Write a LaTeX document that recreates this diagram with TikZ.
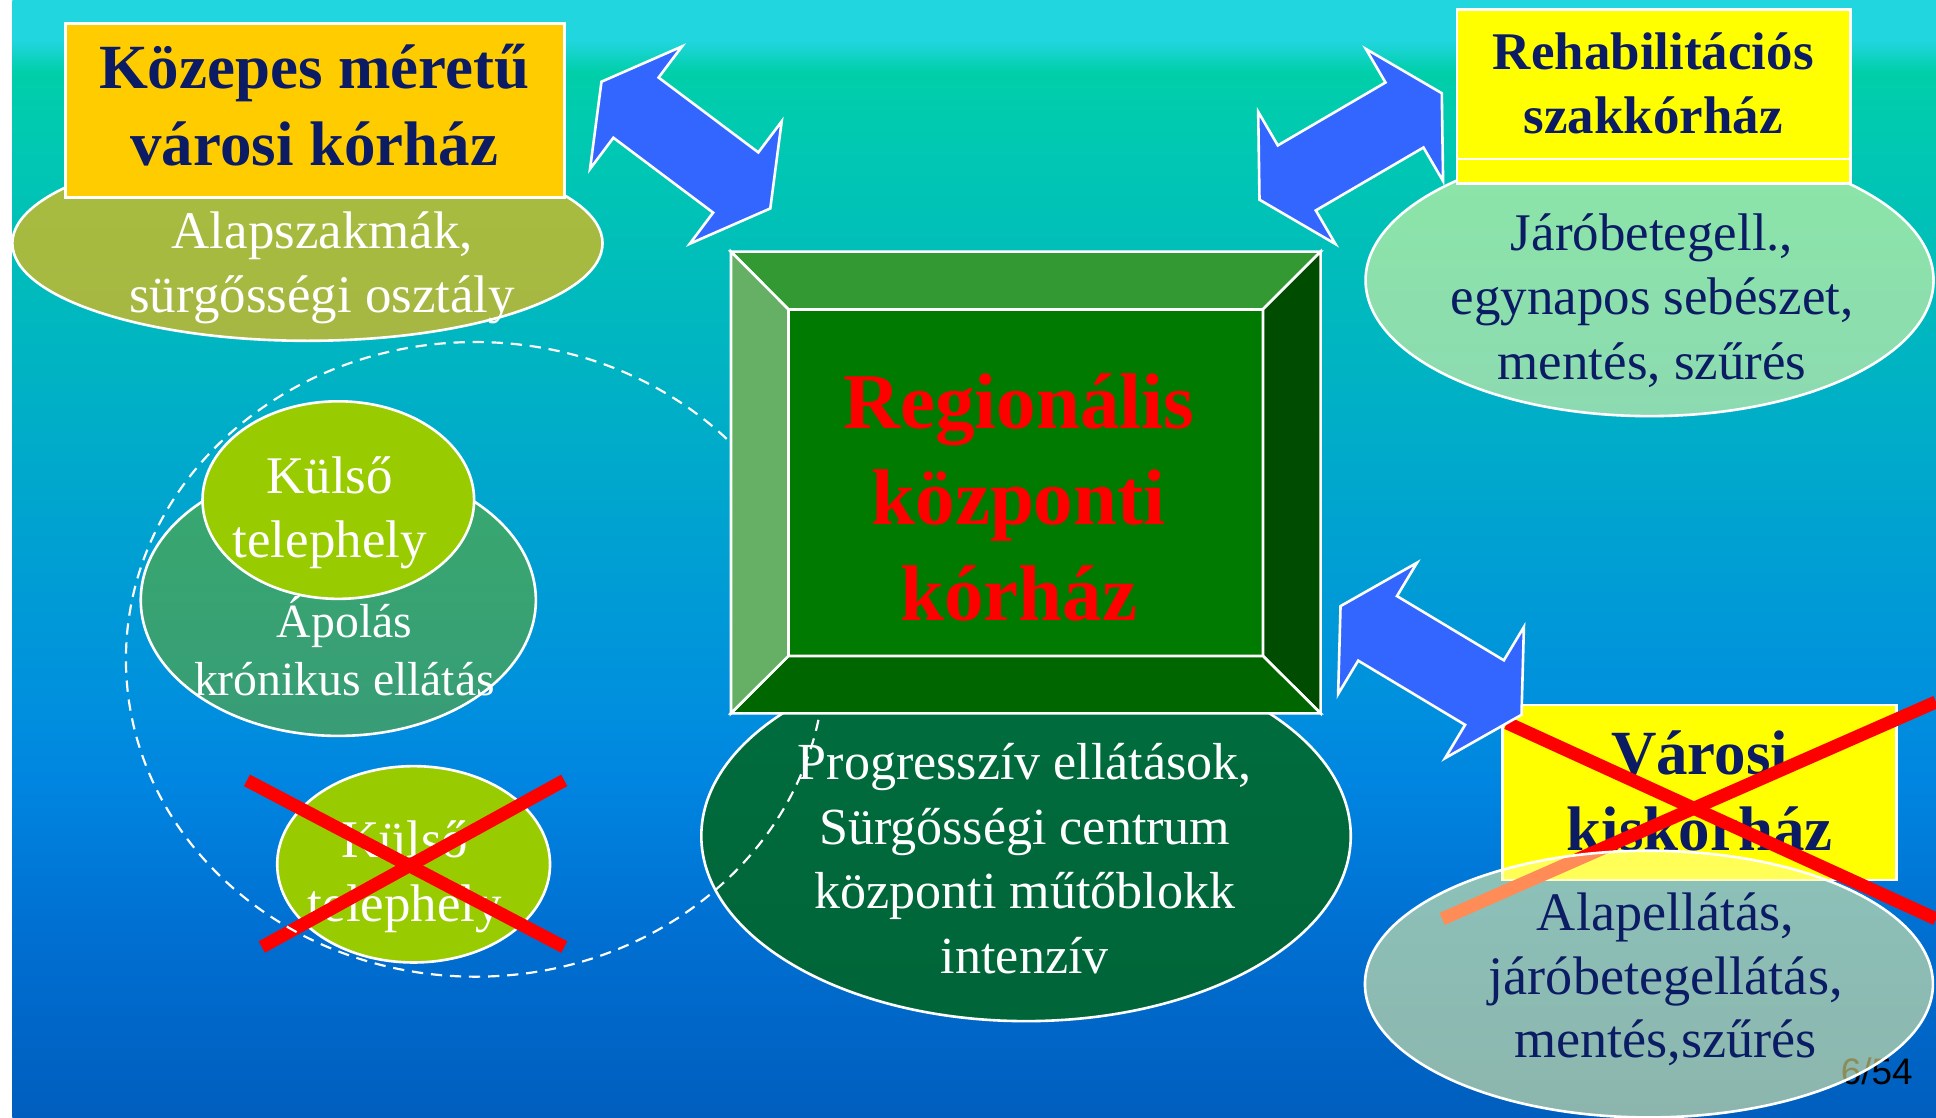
\documentclass[tikz,border=0pt]{standalone}
\usepackage{fontspec}
\setmainfont{Liberation Serif}
\newfontfamily\pagefont{Liberation Sans}
\usetikzlibrary{shapes.geometric}

\definecolor{navy}{RGB}{12,28,100}
\definecolor{gold}{HTML}{FFCC00}
\definecolor{amber}{HTML}{FFB800}
\definecolor{lemon}{HTML}{FFFF00}
\definecolor{paleyellow}{HTML}{FFFFA0}
\definecolor{sitegreen}{HTML}{99CC00}
\definecolor{nursegreen}{HTML}{66AA22}
\definecolor{progreen}{HTML}{006620}
\definecolor{arrowblue}{HTML}{3366FF}
\definecolor{bevtop}{HTML}{339933}
\definecolor{bevleft}{HTML}{66B066}
\definecolor{bevright}{HTML}{004C00}
\definecolor{bevbot}{HTML}{006600}
\definecolor{boxgreen}{HTML}{007A00}
% background stops, top to bottom
\definecolor{bgA}{HTML}{22D6E0}
\definecolor{bgC}{HTML}{00CFAA}
\definecolor{bgD}{HTML}{00C8B2}
\definecolor{bgE}{HTML}{00B4C2}
\definecolor{bgF}{HTML}{00AEC8}
\definecolor{bgG}{HTML}{0090DE}
\definecolor{bgH}{HTML}{0084E0}
\definecolor{bgI}{HTML}{0070D2}
\definecolor{bgJ}{HTML}{005EBE}
\pgfdeclareverticalshading{slidebg}{100bp}{color(0bp)=(bgJ); color(25bp)=(bgJ);
  color(33.56bp)=(bgI); color(39.64bp)=(bgH); color(43.67bp)=(bgG);
  color(56.22bp)=(bgF); color(58.98bp)=(bgE); color(68.37bp)=(bgD);
  color(71.8bp)=(bgC); color(73.23bp)=(bgA); color(100bp)=(bgA)}

\tikzset{
  spot/.style={ellipse, draw=white, line width=0.6pt, inner sep=0pt},
  plainbox/.style={draw=white, line width=0.6pt, inner sep=0pt},
  bodytext/.style={align=center, text=white, inner sep=0pt, font=\fontsize{12.2}{14.8}\selectfont},
  navytext/.style={bodytext, text=navy},
  titletext/.style={align=center, text=navy, inner sep=0pt, font=\bfseries\fontsize{14.5}{17.6}\selectfont},
  crossout/.style={red, line width=3pt},
  bevel/.style={draw=white, line width=0.6pt, line join=miter},
  pics/dblarrow/.style={code={
    \filldraw[fill=arrowblue, draw=white, line width=0.6pt, line join=miter]
      (-0.855,0) -- (-0.505,0.62) -- (-0.505,0.305) -- (0.505,0.305) -- (0.505,0.62)
      -- (0.855,0) -- (0.505,-0.62) -- (0.505,-0.305) -- (-0.505,-0.305) -- (-0.505,-0.62) -- cycle;
  }}
}

\begin{document}
\begin{tikzpicture}
  \useasboundingbox (0,0) rectangle (15.68,-9.05);
  \fill[white] (0,0) rectangle (15.68,-9.05);
  \shade[shading=slidebg] (0.10,0) rectangle (15.68,-9.05);

  % medium town hospital
  \node[spot, fill=amber, fill opacity=0.65, minimum width=4.78cm, minimum height=1.58cm] (alapell) at (2.49,-1.97) {};
  \node[plainbox, fill=gold, minimum width=4.04cm, minimum height=1.41cm] (kozepbox) at (2.55,-0.895) {};
  \node[titletext] (kozeptxt) at (2.545,-0.851) {Közepes méretű\\városi kórház};
  \node[bodytext] (alaptxt) at (2.61,-2.17) {Alapszakmák,\\sürgősségi osztály};

  % nursing and outer sites
  \node[spot, fill=nursegreen, fill opacity=0.55, minimum width=3.2cm, minimum height=2.2cm] (apolell) at (2.74,-4.86) {};
  \node[spot, fill=sitegreen, minimum width=2.2cm, minimum height=1.6cm] (kulso) at (2.74,-4.05) {};
  \node[bodytext] (kulsotxt) at (2.67,-4.15) {Külső\\telephely};
  \node[bodytext, font=\fontsize{11}{13.4}\selectfont] (apoltxt) at (2.79,-5.233) {Ápolás\\krónikus ellátás};

  \node[spot, fill=sitegreen, minimum width=2.21cm, minimum height=1.59cm] (kulsob) at (3.35,-7.00) {};
  \node[bodytext] (kulsobtxt) at (3.28,-7.10) {Külső\\telephely};
  \draw[crossout] (2.00,-6.32) -- (4.57,-7.67);
  \draw[crossout] (4.57,-6.32) -- (2.12,-7.67);

  % central hospital
  \node[spot, fill=progreen, fill opacity=0.85, minimum width=5.26cm, minimum height=3.0cm] (progell) at (8.31,-6.77) {};
  \node[bodytext, font=\fontsize{12}{14.85}\selectfont] (progtxt) at (8.30,-6.955)
    {Progresszív ellátások,\\Sürgősségi centrum\\központi műtőblokk\\intenzív};

  \node[ellipse, draw=white, line width=0.5pt, dash pattern=on 2.6pt off 1.8pt, inner sep=0pt,
        minimum width=5.66cm, minimum height=5.14cm] (campus) at (3.85,-5.34) {};

  \node[inner sep=0pt, outer sep=0pt, minimum width=4.776cm, minimum height=3.739cm] (regout) at (8.308,-3.9075) {};
  \node[plainbox, outer sep=0pt, fill=boxgreen, minimum width=3.844cm, minimum height=2.808cm] (regin) at (8.307,-3.909) {};
  \filldraw[bevel, fill=bevtop] (regout.north west) -- (regout.north east) -- (regin.north east) -- (regin.north west) -- cycle;
  \filldraw[bevel, fill=bevright] (regout.north east) -- (regout.south east) -- (regin.south east) -- (regin.north east) -- cycle;
  \filldraw[bevel, fill=bevbot] (regout.south east) -- (regout.south west) -- (regin.south west) -- (regin.south east) -- cycle;
  \filldraw[bevel, fill=bevleft] (regout.south west) -- (regout.north west) -- (regin.north west) -- (regin.south west) -- cycle;
  \node[align=center, text=red, inner sep=0pt, font=\bfseries\fontsize{18.2}{22.05}\selectfont] (regtxt) at (8.25,-4.03)
    {Regionális\\központi\\kórház};

  % rehabilitation hospital
  \node[spot, fill=paleyellow, fill opacity=0.55, minimum width=4.6cm, minimum height=2.2cm] (jaroell) at (13.36,-2.27) {};
  \node[plainbox, fill=lemon, minimum width=3.186cm, minimum height=1.409cm] (rehabbox) at (13.393,-0.7805) {};
  \coordinate (rehabcut) at (0,-1.288);
  \draw[white, line width=0.6pt] (rehabbox.west |- rehabcut) -- (rehabbox.east |- rehabcut);
  \node[titletext, font=\bfseries\fontsize{12.2}{14.8}\selectfont] (rehabtxt) at (13.39,-0.674) {Rehabilitációs\\szakkórház};
  \node[navytext] (jarotxt) at (13.38,-2.434) {Járóbetegell.,\\egynapos sebészet,\\mentés, szűrés};

  % small town hospital
  \node[plainbox, fill=lemon, minimum width=3.188cm, minimum height=1.416cm] (varosbox) at (13.764,-6.418) {};
  \node[titletext] (varostxt) at (13.765,-6.407) {Városi\\kiskórház};
  \draw[crossout] (12.205,-5.855) -- (15.68,-7.442);
  \draw[crossout] (15.68,-5.685) -- (11.68,-7.442);
  \node[anchor=base, inner sep=0pt, font=\pagefont\fontsize{8.5}{10}\selectfont] (pagenum) at (15.20,-8.78) {6/54};
  \node[spot, fill=paleyellow, fill opacity=0.55, minimum width=4.6cm, minimum height=2.16cm] (alapellb) at (13.355,-7.97) {};
  \node[navytext, font=\fontsize{12.5}{14.6}\selectfont] (alapbtxt) at (13.49,-7.933) {Alapellátás,\\járóbetegellátás,\\mentés,szűrés};

  % block arrows
  \pic[rotate=-36.9] at (5.555,-1.175) {dblarrow};
  \pic[rotate=30.3] at (10.939,-1.186) {dblarrow};
  \pic[rotate=-31] at (11.59,-5.349) {dblarrow};
\end{tikzpicture}
\end{document}
